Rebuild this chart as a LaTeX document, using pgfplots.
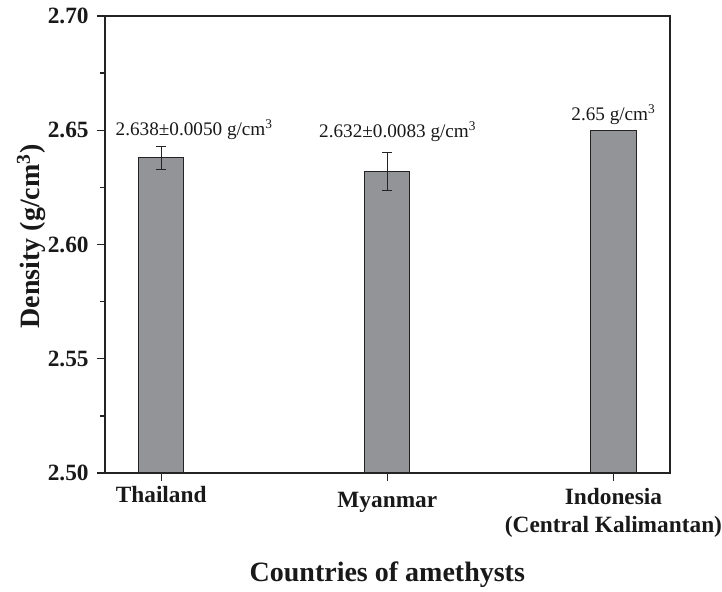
\documentclass[border=0pt]{standalone}
\usepackage{fontspec}
\setmainfont{Liberation Serif}
\usepackage{pgfplots}
\pgfplotsset{compat=1.18}
\definecolor{barfill}{RGB}{147,148,151}
\definecolor{edge}{RGB}{35,35,35}
\begin{document}
\begin{tikzpicture}
\useasboundingbox (-78.5pt,-89.25pt) rectangle (463pt,354.75pt);
\begin{axis}[
  at={(0,0)}, anchor=south west,
  scale only axis, width=424pt, height=342.75pt,
  xmin=-0.25, xmax=2.25, ymin=2.5, ymax=2.7,
  axis line style={line width=1.3pt, color=edge},
  ybar, bar width=0.2, bar shift=0pt,
  xtick={0,1,2},
  xticklabels={Thailand, \raisebox{-3.75pt}{Myanmar}, {\raisebox{-1.5pt}{\begin{tabular}[t]{@{}c@{}}Indonesia\\(Central Kalimantan)\end{tabular}}}},
  ytick={2.50,2.55,2.60,2.65,2.70},
  minor y tick num=1,
  tick pos=left, tick align=outside,
  major tick length=6pt, minor tick length=3.5pt,
  tick style={line width=1pt, color=edge},
  /pgf/number format/assume math mode=true,
  y tick label style={/pgf/number format/.cd, fixed, fixed zerofill, precision=2, /tikz/.cd},
  yticklabel style={font=\fontsize{17.5}{21}\selectfont\bfseries, xshift=-2.5pt, text=black!90},
  xticklabel style={font=\fontsize{17.5}{21}\selectfont\bfseries, anchor=base, yshift=-16.5pt, text=black!90},
  xlabel={Countries of amethysts},
  xlabel style={at={(axis description cs:0.5,-0.2385)}, anchor=base, font=\fontsize{21}{25}\selectfont\bfseries, text=black!90},
  ylabel={Density (g/cm\textsuperscript{3})},
  ylabel style={at={(axis description cs:-0.1145,0.5175)}, anchor=base, font=\fontsize{21}{25}\selectfont\bfseries, text=black!90},
]
\addplot[fill=barfill, draw=edge, line width=0.8pt,
  error bars/.cd, y dir=both, y explicit,
  error bar style={line width=0.8pt, color=edge},
  error mark options={rotate=90, mark size=3.75pt, line width=0.8pt, color=edge}]
  coordinates {(0,2.638) +- (0,0.0050) (1,2.632) +- (0,0.0083)};
\addplot[fill=barfill, draw=edge, line width=0.8pt]
  coordinates {(2,2.65)};
\node[anchor=base, font=\fontsize{14.4}{17}\selectfont, text=black!90] at (axis cs:0.146,2.6475) {2.638±0.0050 g/cm\textsuperscript{3}};
\node[anchor=base, font=\fontsize{14.4}{17}\selectfont, text=black!90] at (axis cs:1.046,2.6469) {2.632±0.0083 g/cm\textsuperscript{3}};
\node[anchor=base, font=\fontsize{14.4}{17}\selectfont, text=black!90] at (axis cs:2.0,2.6542) {2.65 g/cm\textsuperscript{3}};
\end{axis}
\end{tikzpicture}
\end{document}
